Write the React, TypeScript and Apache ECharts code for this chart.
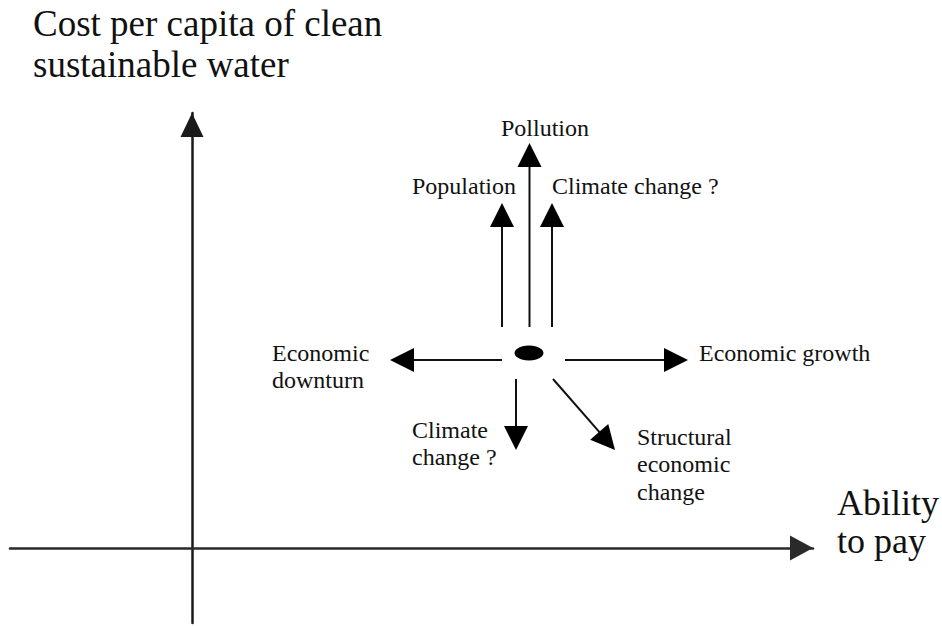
import React, { useEffect, useRef } from "react";
import * as echarts from "echarts";

// Axis titles
const yAxisTitle = ["Cost per capita of clean", "sustainable water"];
const xAxisTitle = ["Ability", "to pay"];

// Axis extents in data units (origin where the two axes cross)
const xExtent = [-182, 621];
const yExtent = [-75, 435];

// Pressure arrows: start and end (tip) points in data units
const arrowNames = [
  "Pollution",
  "Population",
  "Climate change (up)",
  "Economic downturn",
  "Economic growth",
  "Climate change (down)",
  "Structural economic change",
];
const arrowFrom = [
  [337.5, 221],
  [310, 221],
  [360, 221],
  [310, 188],
  [373, 188],
  [324, 169],
  [361, 169],
];
const arrowTo = [
  [337.5, 405],
  [310, 345],
  [360, 345],
  [198, 188],
  [496, 188],
  [324, 98],
  [423, 98],
];

// Current position (the dot)
const currentPosition = [337, 195];

// Labels of the arrows and their anchor (first baseline, left) in data units
const labelTexts = [
  "Pollution",
  "Population",
  "Climate change ?",
  "Economic\ndownturn",
  "Economic growth",
  "Climate\nchange ?",
  "Structural\neconomic\nchange",
];
const labelAnchors = [
  [309, 412],
  [220, 354],
  [360, 354],
  [80, 187],
  [507, 187],
  [220, 110],
  [445, 103],
];

const FONT = '"Liberation Serif", "Times New Roman", serif';

export default function App() {
  const ref = useRef<HTMLDivElement>(null);

  useEffect(() => {
    if (!ref.current) return;
    const chart = echarts.init(ref.current, undefined, { renderer: "svg" });

    const arrowData = arrowFrom.map((f, i) => ({
      name: arrowNames[i],
      value: [f[0], f[1], arrowTo[i][0], arrowTo[i][1]],
    }));
    const labelData = labelAnchors.map((a, i) => ({
      name: labelTexts[i],
      value: [a[0], a[1], i],
    }));

    const LABEL_SIZE = 24;
    const LABEL_LH = 27.5;
    const labelTopOffset = LABEL_LH / 2 + 0.3375 * LABEL_SIZE;

    const option: any = {
      animation: false,
      backgroundColor: "#ffffff",
      grid: { left: 10, right: 129, top: 113, bottom: 3 },
      xAxis: {
        type: "value",
        min: xExtent[0],
        max: xExtent[1],
        splitLine: { show: false },
        axisTick: { show: false },
        axisLabel: { show: false },
        axisLine: {
          show: true,
          onZero: true,
          symbol: ["none", "triangle"],
          symbolSize: [25, 23],
          symbolOffset: [0, -11.5],
          lineStyle: { color: "#2a2a2a", width: 2.5 },
        },
      },
      yAxis: {
        type: "value",
        min: yExtent[0],
        max: yExtent[1],
        splitLine: { show: false },
        axisTick: { show: false },
        axisLabel: { show: false },
        axisLine: {
          show: true,
          onZero: true,
          symbol: ["none", "triangle"],
          symbolSize: [23, 24],
          symbolOffset: [0, -12],
          lineStyle: { color: "#1a1a1a", width: 2.5 },
        },
      },
      graphic: [
        {
          type: "text",
          left: 33,
          top: 3,
          style: {
            text: yAxisTitle.join("\n"),
            fontFamily: FONT,
            fontSize: 37,
            lineHeight: 41,
            fill: "#111",
          },
        },
        {
          type: "text",
          left: 837,
          top: 484,
          style: {
            text: xAxisTitle.join("\n"),
            fontFamily: FONT,
            fontSize: 36,
            lineHeight: 38,
            fill: "#111",
          },
        },
      ],
      series: [
        {
          type: "custom",
          name: "arrows",
          clip: false,
          data: arrowData,
          renderItem: (params: any, api: any) => {
            const p0 = api.coord([api.value(0), api.value(1)]);
            const p1 = api.coord([api.value(2), api.value(3)]);
            const dx = p1[0] - p0[0];
            const dy = p1[1] - p0[1];
            const len = Math.hypot(dx, dy);
            const ux = dx / len;
            const uy = dy / len;
            const headL = 24;
            const headW = 24;
            const bx = p1[0] - ux * headL;
            const by = p1[1] - uy * headL;
            const nx = -uy;
            const ny = ux;
            return {
              type: "group",
              children: [
                {
                  type: "line",
                  shape: { x1: p0[0], y1: p0[1], x2: bx + ux * 2, y2: by + uy * 2 },
                  style: { stroke: "#111", lineWidth: 2 },
                },
                {
                  type: "polygon",
                  shape: {
                    points: [
                      [p1[0], p1[1]],
                      [bx + (nx * headW) / 2, by + (ny * headW) / 2],
                      [bx - (nx * headW) / 2, by - (ny * headW) / 2],
                    ],
                  },
                  style: { fill: "#000" },
                },
              ],
            };
          },
        },
        {
          type: "scatter",
          name: "position",
          symbol: "circle",
          symbolSize: [29, 15],
          itemStyle: { color: "#000", opacity: 1 },
          data: [currentPosition],
        },
        {
          type: "custom",
          name: "labels",
          clip: false,
          data: labelData,
          renderItem: (params: any, api: any) => {
            const p = api.coord([api.value(0), api.value(1)]);
            const idx = api.value(2);
            return {
              type: "text",
              x: p[0],
              y: p[1] - labelTopOffset,
              style: {
                text: labelTexts[idx],
                fontFamily: FONT,
                fontSize: LABEL_SIZE,
                lineHeight: LABEL_LH,
                fill: "#111",
                align: "left",
                verticalAlign: "top",
              },
            };
          },
        },
      ],
    };

    chart.setOption(option);
    return () => chart.dispose();
  }, []);

  return (
    <div
      ref={ref}
      style={{
        width: 942,
        height: 626,
        position: "absolute",
        left: 0,
        top: 0,
        background: "#fff",
      }}
    />
  );
}
